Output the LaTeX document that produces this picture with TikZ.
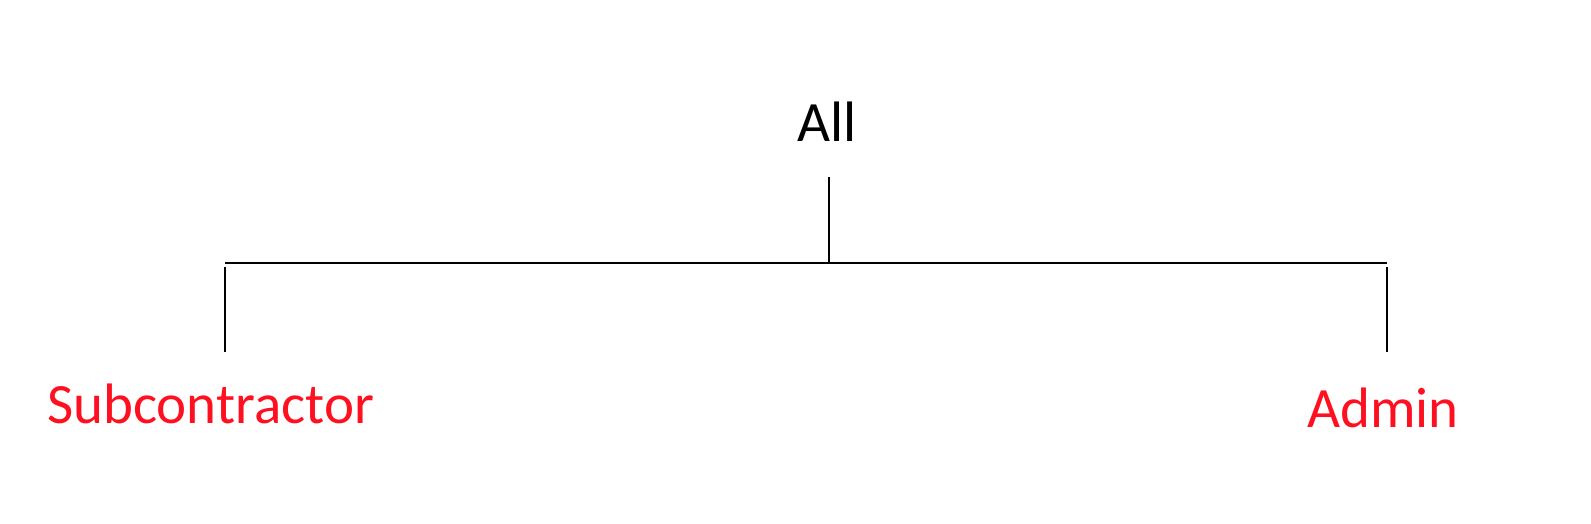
\documentclass[tikz,border=0pt]{standalone}
\usepackage{fontspec}
\setmainfont{Carlito}
\definecolor{lblred}{RGB}{255,16,32}
\begin{document}
\begin{tikzpicture}[x=1pt,y=-1pt,
  lbl/.style={anchor=base west,inner sep=0pt,font=\fontsize{57}{61}\selectfont},
  conn/.style={line width=2.6pt,black}]
\useasboundingbox (0,0) rectangle (1591,524);
\node[lbl] (all) at (797,142) {All};
\node[lbl,text=lblred] (sub) at (47,423) {Subcontractor};
\node[lbl,text=lblred] (adm) at (1307,427) {Admin};
\coordinate (top) at (829,177);
\coordinate (mid) at (829,263);
\coordinate (hl) at (225,263);
\coordinate (hr) at (1387,263);
\coordinate (lt) at (225,267);
\coordinate (lb) at (225,352);
\coordinate (rt) at (1387,267);
\coordinate (rb) at (1387,352);
\draw[conn] (top) -- (mid);
\draw[conn] (hl) -- (hr);
\draw[conn] (lt) -- (lb);
\draw[conn] (rt) -- (rb);
\end{tikzpicture}
\end{document}
